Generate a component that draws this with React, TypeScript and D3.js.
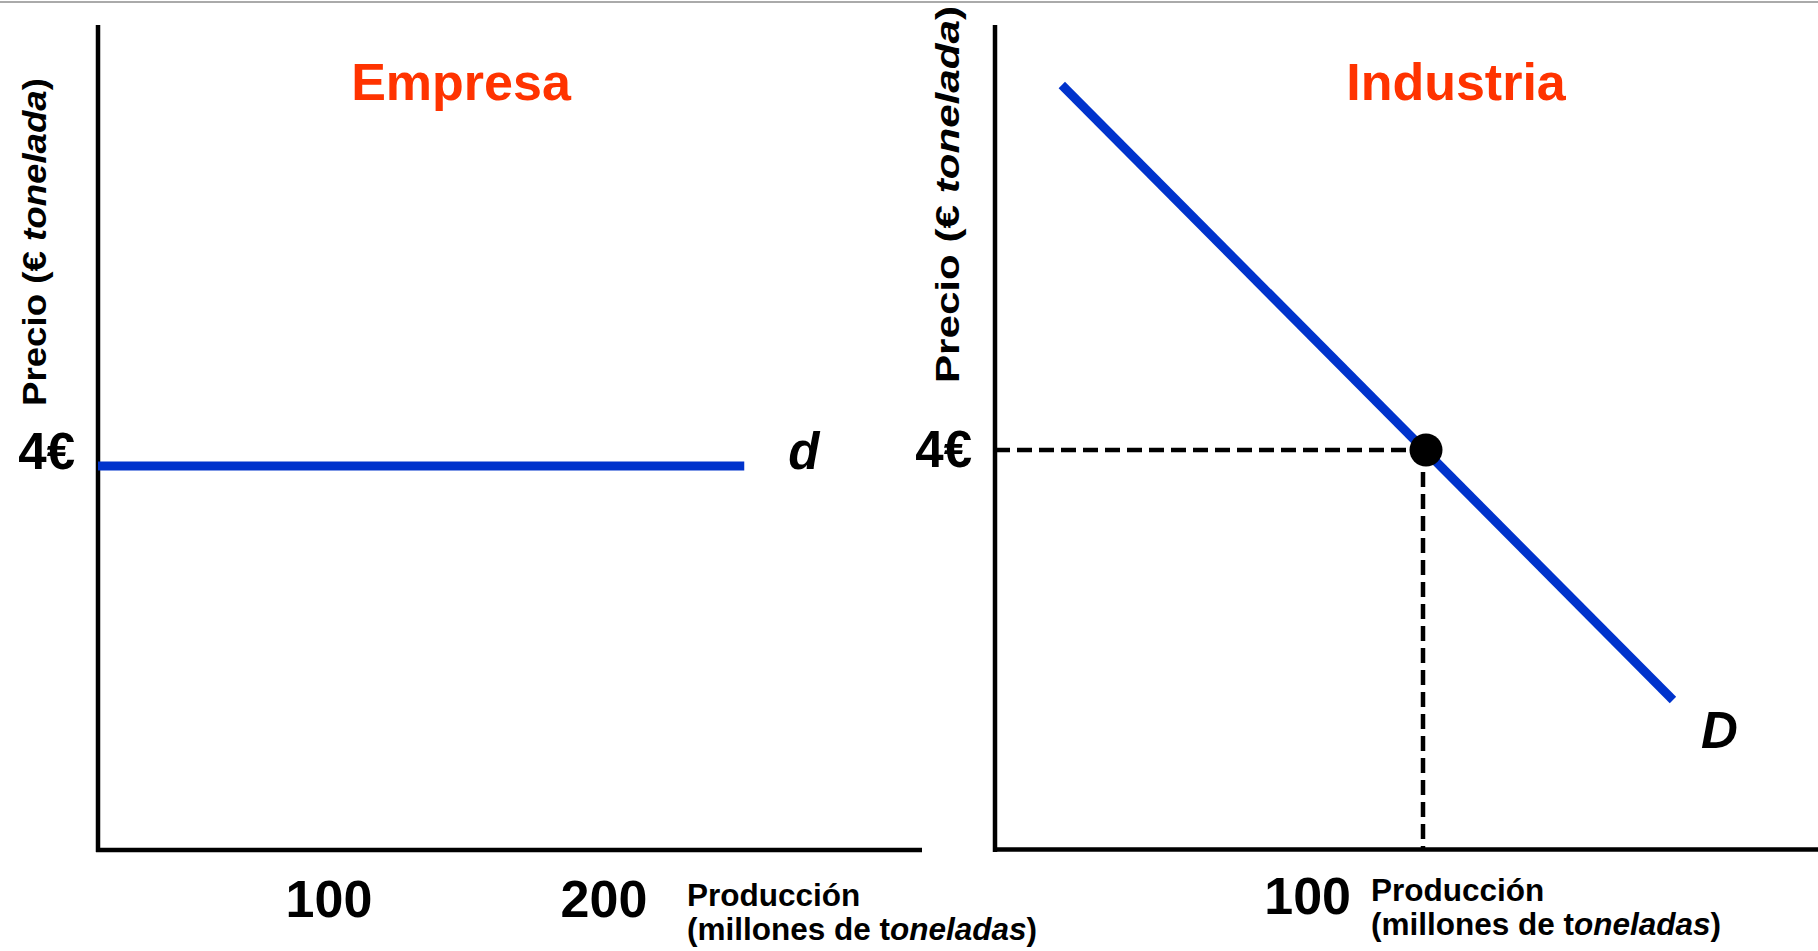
import React from "react";
import * as d3 from "d3";

// ---- Data ----
const firmTicks = [100, 200];
const firmDemandQ = [16, 251];
const firmDemandP = [4, 4];
const firmPriceLabel = "4€";

const industryTicks = [100];
const industryDemandQ = [15.5, 157.3];
const industryDemandP = [7.65, 1.5];
const equilibriumQ = [100];
const equilibriumP = [4];

const titles = ["Empresa", "Industria"];

const W = 1818;
const H = 951;
const FONT = "'Liberation Sans', Arial, Helvetica, sans-serif";
const BLUE = "#0033cc";
const RED = "#ff3300";

export default function App() {
  // Left panel (firm)
  const xL = d3.scaleLinear().domain([0, 200]).range([54, 604]);
  const yL = d3.scaleLinear().domain([0, 8]).range([850, 82]);
  // Right panel (industry)
  const xR = d3.scaleLinear().domain([0, 100]).range([995, 1426]);
  const yR = d3.scaleLinear().domain([0, 8]).range([850, 50]);

  const lineL = d3
    .line<number>()
    .x((_, i) => xL(firmDemandQ[i]))
    .y((_, i) => yL(firmDemandP[i]));
  const lineR = d3
    .line<number>()
    .x((_, i) => xR(industryDemandQ[i]))
    .y((_, i) => yR(industryDemandP[i]));

  const axisW = 4.5;
  const eqX = xR(equilibriumQ[0]);
  const eqY = yR(equilibriumP[0]);

  const prodLabel = (x: number, y: number, gap: number) => (
    <text x={x} y={y} fontFamily={FONT} fontWeight="bold" fontSize={31.5} fill="#000">
      <tspan x={x} y={y}>Producción</tspan>
      <tspan x={x} y={y + gap}>
        (millones de t<tspan fontStyle="italic">oneladas</tspan>)
      </tspan>
    </text>
  );

  const priceLabel = (x: number, y: number, len: number) => (
    <text
      transform={`translate(${x},${y}) rotate(-90)`}
      fontFamily={FONT}
      fontWeight="bold"
      fontSize={33}
      textLength={len}
      lengthAdjust="spacingAndGlyphs"
      fill="#000"
    >
      Precio (€ <tspan fontStyle="italic">tonelada</tspan>)
    </text>
  );

  return (
    <svg
      width={W}
      height={H}
      style={{ position: "absolute", left: 0, top: 0, background: "#fff" }}
    >
      <rect x={0} y={0} width={W} height={H} fill="#fff" />
      <line x1={0} x2={W} y1={2} y2={2} stroke="#aaa" strokeWidth={2} />

      {/* ---- Left panel ---- */}
      <line x1={98} x2={98} y1={25} y2={852} stroke="#000" strokeWidth={axisW} />
      <line x1={96} x2={922} y1={850} y2={850} stroke="#000" strokeWidth={axisW} />
      <text x={461} y={100} textAnchor="middle" fontFamily={FONT} fontWeight="bold" fontSize={52} fill={RED}>
        {titles[0]}
      </text>
      <path d={lineL(firmDemandQ) || ""} stroke={BLUE} strokeWidth={9} fill="none" />
      <text x={xL(firmDemandQ[1]) + 44} y={yL(4) + 3} fontFamily={FONT} fontWeight="bold" fontStyle="italic" fontSize={51} fill="#000">
        d
      </text>
      <text x={75} y={yL(4) + 3} textAnchor="end" fontFamily={FONT} fontWeight="bold" fontSize={51} fill="#000">
        {firmPriceLabel}
      </text>
      {priceLabel(46, 406, 328)}
      {firmTicks.map((t) => (
        <text key={t} x={xL(t)} y={917} textAnchor="middle" fontFamily={FONT} fontWeight="bold" fontSize={52} fill="#000">
          {t}
        </text>
      ))}
      {prodLabel(687, 906, 34)}

      {/* ---- Right panel ---- */}
      <line x1={995} x2={995} y1={25} y2={852} stroke="#000" strokeWidth={axisW} />
      <line x1={993} x2={W} y1={849.5} y2={849.5} stroke="#000" strokeWidth={axisW} />
      <text x={1456} y={100} textAnchor="middle" fontFamily={FONT} fontWeight="bold" fontSize={52} fill={RED}>
        {titles[1]}
      </text>
      <line x1={995} x2={eqX} y1={eqY} y2={eqY} stroke="#000" strokeWidth={4.5} strokeDasharray="15 7" />
      <line x1={eqX - 3} x2={eqX - 3} y1={eqY} y2={849} stroke="#000" strokeWidth={4.5} strokeDasharray="15 7" />
      <path d={lineR(industryDemandQ) || ""} stroke={BLUE} strokeWidth={9} fill="none" />
      <circle cx={eqX} cy={eqY} r={16.5} fill="#000" />
      <text x={xR(industryDemandQ[1]) + 28} y={748} fontFamily={FONT} fontWeight="bold" fontStyle="italic" fontSize={51} fill="#000">
        D
      </text>
      <text x={972} y={eqY + 17} textAnchor="end" fontFamily={FONT} fontWeight="bold" fontSize={51} fill="#000">
        {firmPriceLabel}
      </text>
      {priceLabel(959, 383, 377)}
      {industryTicks.map((t) => (
        <text key={t} x={xR(t) - 75} y={914} textAnchor="end" fontFamily={FONT} fontWeight="bold" fontSize={52} fill="#000">
          {t}
        </text>
      ))}
      {prodLabel(1371, 901, 34)}
    </svg>
  );
}
